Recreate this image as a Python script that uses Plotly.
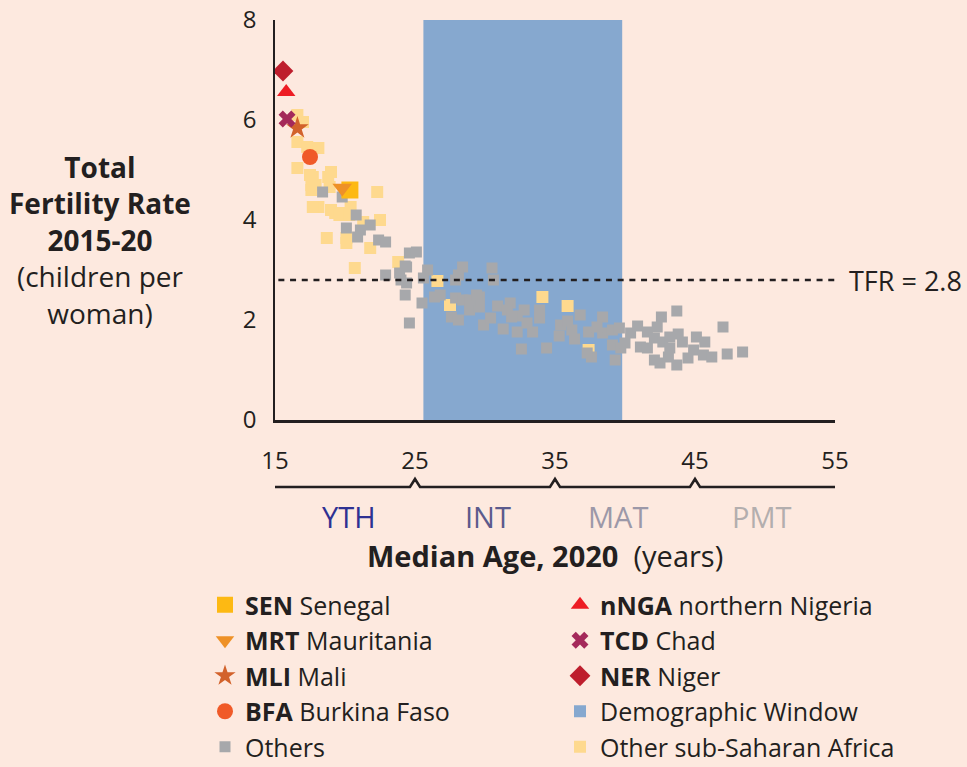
import plotly.graph_objects as go

# highlighted countries: (code, name, median age, TFR)
focus_codes = ["SEN", "MRT", "MLI", "BFA", "nNGA", "TCD", "NER"]
focus_names = ["Senegal", "Mauritania", "Mali", "Burkina Faso", "northern Nigeria", "Chad", "Niger"]
focus_age = [20.35, 19.8, 16.6, 17.5, 15.8, 15.86, 15.57]
focus_tfr = [4.6, 4.64, 5.84, 5.26, 6.56, 6.02, 6.98]

# other sub-Saharan Africa
ssa_age = [16.6, 17.0, 16.6, 17.3, 18.1, 16.6, 17.7, 17.6, 18.8, 18.9, 18.1, 19.3,
           19.9, 20.4, 22.3, 22.5, 18.7, 20.1, 20.1, 21.8, 20.7, 23.8, 26.6, 27.5,
           34.1, 35.9, 37.4, 17.5, 17.9, 17.6, 19.0, 19.0, 19.6, 20.3, 17.7, 21.3]
ssa_tfr = [6.1, 5.96, 5.56, 5.46, 5.44, 5.04, 4.86, 4.7, 4.86, 4.66, 4.26, 4.14,
           4.14, 4.26, 4.56, 4.0, 3.64, 3.64, 3.54, 3.44, 3.04, 3.16, 2.78, 2.3,
           2.46, 2.28, 1.4, 4.9, 4.7, 4.6, 4.96, 4.2, 4.1, 4.1, 4.26, 3.96]

# rest of the world
oth_age = [18.4, 19.8, 20.8, 20.1, 21.1, 21.8, 20.9, 22.4, 22.9, 24.6, 25.1, 22.9,
           24.4, 23.9, 24.3, 24.4, 24.3, 25.5, 25.9, 25.6, 26.4, 24.6, 24.0,
           28.4, 28.1, 30.5, 30.6, 27.9, 27.9, 28.4, 29.6, 28.9, 29.6, 27.6, 28.1,
           29.9, 30.4, 30.9, 31.8, 31.3, 32.3, 32.8, 32.3, 32.6, 33.4, 33.9, 33.9,
           34.4, 35.4, 35.3, 35.9, 36.2, 36.4, 36.8, 37.4, 38.4, 38.4, 38.0, 39.1,
           39.6, 37.6, 37.3, 39.1, 39.3, 39.7, 28.9, 29.4, 31.6, 31.9, 33.0, 26.8,
           40.4, 40.9, 40.0, 41.1, 41.6, 41.6, 42.3, 42.6, 43.7, 42.1, 42.7, 43.2,
           43.8, 43.2, 42.1, 42.5, 43.1, 43.7, 44.1, 44.5, 44.9, 45.1, 45.6, 45.7,
           46.2, 47.0, 47.3, 48.4]
oth_tfr = [4.56, 4.46, 4.1, 3.84, 3.8, 3.9, 3.66, 3.6, 3.56, 3.34, 3.36, 2.9,
           3.06, 2.94, 3.08, 2.74, 2.5, 2.34, 3.0, 2.84, 2.46, 1.94, 2.8,
           3.06, 2.9, 3.04, 2.8, 2.8, 2.44, 2.4, 2.46, 2.2, 2.26, 2.06, 2.0,
           1.9, 2.04, 2.28, 2.34, 1.82, 2.08, 2.2, 1.76, 1.42, 1.76, 2.2, 2.04,
           1.44, 1.9, 1.68, 1.98, 1.8, 1.62, 2.1, 1.76, 2.06, 1.74, 1.86, 1.8,
           1.84, 1.26, 1.34, 1.5, 1.2, 1.44, 2.4, 2.5, 2.2, 2.06, 1.94, 2.5,
           1.74, 1.88, 1.54, 1.46, 1.44, 1.76, 1.86, 2.06, 2.18, 1.64, 1.56, 1.66,
           1.72, 1.44, 1.2, 1.14, 1.26, 1.1, 1.56, 1.24, 1.4, 1.66, 1.3, 1.56,
           1.26, 1.86, 1.32, 1.36]

window_start, window_end = 25.6, 39.8
tfr_threshold = 2.8
stage_labels = ["YTH", "INT", "MAT", "PMT"]
stage_pos = [20.3, 30.2, 39.5, 49.8]
stage_breaks = [25, 35, 45]
x_ticks = [15, 25, 35, 45, 55]
y_ticks = [0, 2, 4, 6, 8]

BG = "#FDE9DF"
TXT = "#231F20"
FONT = "Open Sans"

focus_style = {
    "SEN": ("square", "#FDB913", 17),
    "MRT": ("triangle-down", "#EE9127", 17),
    "MLI": ("star", "#D2622B", 17),
    "BFA": ("circle", "#F05A28", 16),
    "nNGA": ("triangle-up", "#ED1C24", 16),
    "TCD": ("x", "#A4295A", 15),
    "NER": ("diamond", "#BE1E2D", 16),
}
legend_rank = {"SEN": 1, "nNGA": 2, "MRT": 3, "TCD": 4, "MLI": 5, "NER": 6, "BFA": 7}

fig = go.Figure()

fig.add_trace(go.Scatter(x=ssa_age, y=ssa_tfr, mode="markers", name="Other sub-Saharan Africa",
                         marker=dict(symbol="square", size=12, color="#FED98E"),
                         legendrank=10))
fig.add_trace(go.Scatter(x=oth_age, y=oth_tfr, mode="markers", name="Others",
                         marker=dict(symbol="square", size=11, color="#A7A8AB"),
                         legendrank=9))

for code, name, ax, ty in zip(focus_codes, focus_names, focus_age, focus_tfr):
    sym, col, sz = focus_style[code]
    fig.add_trace(go.Scatter(x=[ax], y=[ty], mode="markers",
                             name="<b>%s</b> %s" % (code, name),
                             marker=dict(symbol=sym, size=sz, color=col,
                                         line=dict(width=0)),
                             legendrank=legend_rank[code]))

# demographic window
fig.add_shape(type="rect", xref="x", yref="y", x0=window_start, x1=window_end,
              y0=0, y1=8.06, fillcolor="#86A8CF", line=dict(width=0), layer="below",
              showlegend=True, name="Demographic Window", legendrank=8)

# TFR threshold line
fig.add_shape(type="line", xref="paper", yref="y", x0=0.006, x1=1,
              y0=tfr_threshold, y1=tfr_threshold,
              line=dict(color=TXT, width=2.5, dash="6px,5.7px"))
fig.add_annotation(xref="paper", yref="y", x=1.022, y=tfr_threshold,
                   text="TFR = %.1f" % tfr_threshold, showarrow=False,
                   xanchor="left", yanchor="middle", font=dict(size=27))

# bracket under the x axis
yb, notch, half = -0.1675, 0.02, 0.36
path = "M 15,%g" % yb
for b in stage_breaks:
    path += " L %g,%g L %g,%g L %g,%g" % (b - half, yb, b, yb + notch, b + half, yb)
path += " L 55.9,%g" % yb
fig.add_shape(type="path", xref="x", yref="paper", path=path,
              line=dict(color=TXT, width=2.6))

stage_colors = ["#2E3192", "#5B5A8C", "#9C98A8", "#B3AEAE"]
for lab, xp, c in zip(stage_labels, stage_pos, stage_colors):
    fig.add_annotation(xref="x", yref="paper", x=xp, y=-0.24, text=lab,
                       showarrow=False, xanchor="center", yanchor="middle",
                       font=dict(size=29, color=c))

fig.add_annotation(xref="x", yref="paper", x=34.3, y=-0.3375,
                   text="<b>Median Age, 2020</b>  (years)", showarrow=False,
                   xanchor="center", yanchor="middle", font=dict(size=29))

fig.add_annotation(xref="paper", yref="paper", x=-0.3125, y=0.45,
                   text="<b>Total<br>Fertility Rate<br>2015-20</b><br>(children per<br>woman)",
                   showarrow=False, align="center", xanchor="center", yanchor="middle",
                   font=dict(size=28))

fig.update_layout(
    width=967, height=767,
    margin=dict(l=275, r=132, t=20, b=347, autoexpand=False),
    paper_bgcolor=BG, plot_bgcolor=BG,
    font=dict(family=FONT, color=TXT, size=24),
    legend=dict(orientation="h", x=-0.125, xanchor="left", y=-0.405, yanchor="top",
                entrywidth=310, font=dict(size=25), bgcolor="rgba(0,0,0,0)",
                itemclick=False, itemdoubleclick=False),
)
fig.update_xaxes(range=[15, 55], tickvals=x_ticks, showgrid=False, zeroline=False,
                 showline=True, linecolor=TXT, linewidth=2.5, ticks="",
                 ticklabelstandoff=17, tickfont=dict(size=24))
fig.update_yaxes(range=[0, 8], tickvals=y_ticks, showgrid=False, zeroline=False,
                 showline=True, linecolor=TXT, linewidth=1.5, ticks="",
                 ticklabelstandoff=12, tickfont=dict(size=24))

fig.write_html("out.html", config={"displayModeBar": False},
               post_script="document.body.style.margin='0';"
                           "document.body.style.background='%s';" % BG)
